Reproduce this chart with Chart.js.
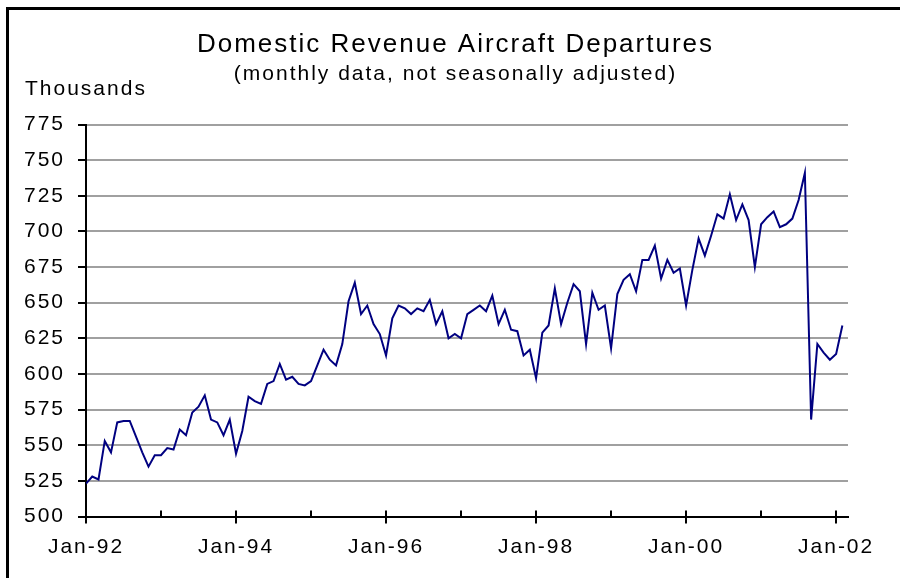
<!DOCTYPE html>
<html>
<head>
<meta charset="utf-8">
<script src="https://cdn.jsdelivr.net/npm/chart.js@4.4.1/dist/chart.umd.min.js"></script>
<style>
body { margin: 0; overflow: hidden; background: #fff; }
canvas { position: absolute; left: 0; top: 0; }
#marco { position: absolute; left: 6px; top: 7px; width: 1000px; height: 1000px; border: 3px solid #000; }
</style>
</head>
<body>
<canvas id="grafico" width="900" height="578"></canvas>
<div id="marco"></div>
<script>
// miles de salidas por mes, ene-92 a feb-02
const anios = [1992, 1993, 1994, 1995, 1996, 1997, 1998, 1999, 2000, 2001, 2002]
const datos_1992 = [523, 528, 526, 553, 545, 566, 567, 567, 556, 545, 535, 543]
const datos_1993 = [543, 548, 547, 561, 557, 573, 577, 585, 568, 566, 557, 568]
const datos_1994 = [544, 560, 584, 581, 579, 593, 595, 607, 596, 598, 593, 592]
const datos_1995 = [595, 606, 617, 610, 606, 621, 651, 664, 642, 648, 635, 628]
const datos_1996 = [613, 639, 648, 646, 642, 646, 644, 652, 635, 644, 625, 628]
const datos_1997 = [625, 642, 645, 648, 644, 655, 635, 645, 631, 630, 613, 617]
const datos_1998 = [597, 629, 634, 660, 635, 650, 663, 658, 621, 657, 645, 648]
const datos_1999 = [618, 656, 666, 670, 658, 680, 680, 690, 667, 680, 671, 674]
const datos_2000 = [648, 673, 695, 683, 697, 712, 709, 726, 708, 719, 708, 675]
const datos_2001 = [705, 710, 714, 703, 705, 709, 722, 741, 568, 621, 615, 610]
const datos_2002 = [614, 634]
const etiquetas_x = ['Jan-92', 'Jan-94', 'Jan-96', 'Jan-98', 'Jan-00', 'Jan-02']
const y_min = 500
const y_max = 775
const y_paso = 25

const todos = [].concat(datos_1992, datos_1993, datos_1994, datos_1995, datos_1996,
    datos_1997, datos_1998, datos_1999, datos_2000, datos_2001, datos_2002)
const puntos = todos.map((v, i) => ({ x: i, y: v }))

Chart.defaults.font.family = "'Liberation Sans', Arial, sans-serif"
Chart.defaults.font.size = 21
Chart.defaults.color = '#000'

// separacion de letras como en el original
const espaciado = {
    id: 'espaciado',
    beforeLayout(chart) { chart.ctx.letterSpacing = '2px' },
    beforeDraw(chart) { chart.ctx.letterSpacing = '2px' }
}

const titulo_y = {
    id: 'titulo_y',
    afterDraw(chart) {
        const ctx = chart.ctx
        ctx.save()
        ctx.font = "21px 'Liberation Sans', Arial, sans-serif"
        ctx.fillStyle = '#000'
        ctx.textAlign = 'left'
        ctx.textBaseline = 'alphabetic'
        ctx.fillText('Thousands', 25, 94.5)
        ctx.restore()
    }
}

// marcas del eje x: cruzadas cada 2 anios, hacia dentro los otros
const marcas_x = {
    id: 'marcas_x',
    afterDraw(chart) {
        const ctx = chart.ctx
        const escala = chart.scales.x
        const abajo = chart.chartArea.bottom
        ctx.save()
        ctx.strokeStyle = '#000'
        ctx.lineWidth = 2
        for (let tick of escala.ticks) {
            const px = Math.round(escala.getPixelForValue(tick.value))
            ctx.beginPath()
            ctx.moveTo(px, abajo - 6)
            ctx.lineTo(px, tick.value % 24 === 0 ? abajo + 7 : abajo)
            ctx.stroke()
        }
        ctx.restore()
    }
}

new Chart(document.getElementById('grafico'), {
    type: 'line',
    data: {
        datasets: [{
            data: puntos,
            borderColor: '#000080',
            borderWidth: 2,
            pointRadius: 0,
            tension: 0,
            fill: false
        }]
    },
    options: {
        responsive: false,
        animation: false,
        devicePixelRatio: 1,
        layout: { padding: { left: 20, right: 9, top: 0, bottom: 0 } },
        plugins: {
            legend: { display: false },
            tooltip: { enabled: false },
            title: {
                display: true,
                text: 'Domestic Revenue Aircraft Departures',
                font: { size: 26, weight: 'normal', lineHeight: 1 },
                padding: { top: 32, bottom: 0 }
            },
            subtitle: {
                display: true,
                text: '(monthly data, not seasonally adjusted)',
                font: { size: 21, weight: 'normal', lineHeight: 1 },
                padding: { top: 6, bottom: 39.5 }
            }
        },
        scales: {
            x: {
                type: 'linear',
                min: 0,
                max: 121.9,
                afterBuildTicks: (escala) => {
                    escala.ticks = anios.slice(0, 11).map((a, i) => ({ value: i * 12 }))
                },
                afterFit: (escala) => { escala.height = 61.5 },
                grid: { display: false, drawTicks: false },
                border: { display: true, color: '#000', width: 2 },
                ticks: {
                    autoSkip: false,
                    maxRotation: 0,
                    padding: 18,
                    callback: (v) => v % 24 === 0 ? etiquetas_x[v / 24] : ''
                }
            },
            y: {
                min: y_min,
                max: y_max,
                afterFit: (escala) => { escala.width = 66 },
                grid: {
                    color: (c) => c.tick && c.tick.value === y_min ? 'rgba(0,0,0,0)' : '#a0a0a0',
                    lineWidth: 2,
                    tickColor: '#000',
                    tickLength: 8,
                    tickWidth: 2
                },
                border: { color: '#000', width: 2 },
                ticks: { stepSize: y_paso, padding: 13 }
            },
            // eje vacio a la derecha, solo para dejar el margen
            y_derecha: {
                position: 'right',
                min: y_min,
                max: y_max,
                afterFit: (escala) => { escala.width = 43 },
                grid: { display: false, drawTicks: false },
                border: { display: false },
                ticks: { display: false }
            }
        }
    },
    plugins: [espaciado, titulo_y, marcas_x]
})
</script>
</body>
</html>
